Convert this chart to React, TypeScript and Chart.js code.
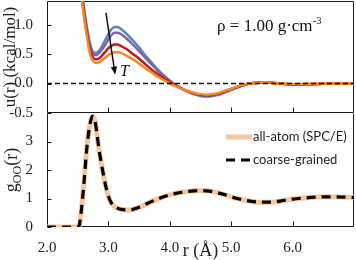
import React, { useEffect, useRef } from "react";
import { Chart, registerables } from "chart.js";
Chart.register(...registerables);

const SERIF = '"Liberation Serif", "Times New Roman", serif';
const SANS = 'Lato, "Liberation Sans", sans-serif';

// ---------- top panel: u(r) at several temperatures ----------
const rU = [2.50, 2.55, 2.60, 2.65, 2.70, 2.75, 2.80, 2.85, 2.90, 2.95, 3.00, 3.05, 3.10, 3.15, 3.20,
  3.30, 3.40, 3.50, 3.60, 3.70, 3.80, 3.90, 4.00, 4.10, 4.20, 4.30, 4.40, 4.50, 4.60, 4.70, 4.80, 4.90,
  5.00, 5.10, 5.20, 5.30, 5.40, 5.50, 5.60, 5.70, 5.80, 6.00, 6.20, 6.40, 6.60, 7.00];
const uBlue = [2.4, 1.75, 1.3, 0.95, 0.68, 0.54, 0.52, 0.56, 0.64, 0.74, 0.84, 0.92, 0.96, 0.96, 0.93,
  0.84, 0.73, 0.61, 0.48, 0.36, 0.24, 0.14, 0.05, -0.03, -0.09, -0.14, -0.18, -0.21, -0.22, -0.21, -0.19, -0.15,
  -0.11, -0.07, -0.03, 0.0, 0.01, 0.02, 0.02, 0.01, 0.0, -0.02, -0.02, -0.01, 0.0, 0.0];
const uPurple = [2.35, 1.7, 1.25, 0.9, 0.63, 0.5, 0.48, 0.52, 0.58, 0.66, 0.75, 0.82, 0.86, 0.86, 0.84,
  0.76, 0.66, 0.55, 0.44, 0.33, 0.22, 0.12, 0.04, -0.03, -0.09, -0.14, -0.18, -0.2, -0.21, -0.2, -0.18, -0.14,
  -0.1, -0.06, -0.03, 0.0, 0.01, 0.02, 0.02, 0.01, 0.0, -0.02, -0.015, -0.01, 0.0, 0.0];
const uRed = [2.3, 1.65, 1.2, 0.85, 0.57, 0.44, 0.41, 0.43, 0.48, 0.54, 0.6, 0.64, 0.66, 0.66, 0.64,
  0.58, 0.5, 0.42, 0.33, 0.24, 0.16, 0.09, 0.02, -0.04, -0.09, -0.13, -0.17, -0.19, -0.2, -0.19, -0.17, -0.13,
  -0.09, -0.06, -0.02, 0.0, 0.01, 0.02, 0.02, 0.01, 0.0, -0.015, -0.01, -0.01, 0.0, 0.0];
const uOrange = [2.2, 1.6, 1.15, 0.8, 0.5, 0.38, 0.35, 0.36, 0.4, 0.44, 0.48, 0.51, 0.53, 0.53, 0.52,
  0.47, 0.41, 0.34, 0.26, 0.19, 0.12, 0.06, 0.0, -0.05, -0.09, -0.13, -0.16, -0.18, -0.19, -0.18, -0.16, -0.12,
  -0.09, -0.05, -0.02, 0.0, 0.01, 0.02, 0.02, 0.01, 0.0, -0.01, -0.01, 0.0, 0.0, 0.0];
const zeroR = [2.0, 7.0];
const zeroU = [0, 0];
const uTicks = [-0.5, 0.0, 0.5, 1.0];

// ---------- bottom panel: g_OO(r) ----------
const rG = [2.00, 2.40, 2.50, 2.53, 2.56, 2.60, 2.65, 2.70, 2.74, 2.78, 2.82, 2.86, 2.90, 2.95, 3.00, 3.05, 3.10,
  3.20, 3.30, 3.40, 3.50, 3.60, 3.70, 3.80, 3.90, 4.00, 4.10, 4.20, 4.30, 4.40, 4.50, 4.60, 4.70, 4.80, 4.90,
  5.00, 5.10, 5.20, 5.30, 5.40, 5.50, 5.60, 5.70, 5.80, 5.90, 6.00, 6.20, 6.40, 6.60, 6.80, 7.00];
const gAllAtom = [0, 0, 0, 0.1, 0.6, 1.5, 2.8, 3.6, 3.88, 3.75, 3.15, 2.55, 2.05, 1.5, 1.08, 0.84, 0.72,
  0.62, 0.6, 0.62, 0.69, 0.79, 0.89, 0.98, 1.06, 1.13, 1.18, 1.22, 1.25, 1.27, 1.28, 1.27, 1.24, 1.19, 1.13,
  1.06, 1.0, 0.95, 0.91, 0.88, 0.87, 0.87, 0.88, 0.91, 0.95, 0.98, 1.02, 1.05, 1.06, 1.05, 1.04];
const gCoarse = [0, 0, 0, 0.1, 0.6, 1.5, 2.8, 3.6, 3.88, 3.75, 3.15, 2.55, 2.05, 1.5, 1.08, 0.84, 0.72,
  0.62, 0.6, 0.62, 0.69, 0.79, 0.89, 0.98, 1.06, 1.13, 1.18, 1.22, 1.25, 1.27, 1.28, 1.27, 1.24, 1.19, 1.13,
  1.06, 1.0, 0.95, 0.91, 0.88, 0.87, 0.87, 0.88, 0.91, 0.95, 0.98, 1.02, 1.05, 1.06, 1.05, 1.04];
const gTicks = [0, 1, 2, 3];
const rTicks = [2, 3, 4, 5, 6];
const legendLabels = ["all-atom (SPC/E)", "coarse-grained"];

// annotation anchors (data coordinates)
const rhoLabelAt = [4.77, 0.96];
const arrowFrom = [2.96, 1.2];
const arrowTo = [3.11, 0.15];
const tLabelAt = [3.19, 0.2];

const pts = (xs: number[], ys: number[]) => xs.map((x, i) => ({ x, y: ys[i] }));

const framePlugin = {
  id: "frame",
  beforeDatasetsDraw(chart: any, _a: any, opts: any) {
    const { ctx, chartArea: a, scales } = chart;
    const L = Math.round(a.left) + 0.5, R = Math.round(a.right) - 0.5;
    const T = Math.round(a.top) + 0.5, B = Math.round(a.bottom) - 0.5;
    ctx.save();
    ctx.strokeStyle = "#1c1c1c";
    ctx.lineWidth = 1;
    ctx.beginPath();
    if (opts.top) { ctx.moveTo(L, T); ctx.lineTo(R, T); }
    ctx.moveTo(L, T); ctx.lineTo(L, B);
    ctx.moveTo(R, T); ctx.lineTo(R, B);
    ctx.moveTo(L, B); ctx.lineTo(R, B);
    for (const v of opts.xt || []) {
      const x = Math.round(scales.x.getPixelForValue(v)) + 0.5;
      ctx.moveTo(x, B); ctx.lineTo(x, B - 5);
    }
    for (const v of opts.yt || []) {
      const y = Math.round(scales.y.getPixelForValue(v)) + 0.5;
      ctx.moveTo(L, y); ctx.lineTo(L + 4, y);
    }
    ctx.stroke();
    ctx.restore();
  },
};

const topNotes = {
  id: "topNotes",
  afterDatasetsDraw(chart: any) {
    const { ctx, scales: { x, y } } = chart;
    ctx.save();
    ctx.fillStyle = "#111";
    ctx.textBaseline = "middle";
    ctx.textAlign = "left";
    ctx.font = `17px ${SERIF}`;
    const px = x.getPixelForValue(rhoLabelAt[0]);
    const py = y.getPixelForValue(rhoLabelAt[1]);
    const main = "ρ = 1.00 g·cm";
    ctx.fillText(main, px, py);
    const w = ctx.measureText(main).width;
    ctx.font = `10px ${SERIF}`;
    ctx.fillText("-3", px + w + 0.5, py - 6);
    // arrow
    const x0 = x.getPixelForValue(arrowFrom[0]), y0 = y.getPixelForValue(arrowFrom[1]);
    const x1 = x.getPixelForValue(arrowTo[0]), y1 = y.getPixelForValue(arrowTo[1]);
    const ang = Math.atan2(y1 - y0, x1 - x0);
    ctx.strokeStyle = "#111";
    ctx.lineWidth = 1.5;
    ctx.beginPath();
    ctx.moveTo(x0, y0);
    ctx.lineTo(x1 - 6 * Math.cos(ang), y1 - 6 * Math.sin(ang));
    ctx.stroke();
    ctx.beginPath();
    ctx.moveTo(x1, y1);
    ctx.lineTo(x1 - 8 * Math.cos(ang) + 3.2 * Math.sin(ang), y1 - 8 * Math.sin(ang) - 3.2 * Math.cos(ang));
    ctx.lineTo(x1 - 8 * Math.cos(ang) - 3.2 * Math.sin(ang), y1 - 8 * Math.sin(ang) + 3.2 * Math.cos(ang));
    ctx.closePath();
    ctx.fill();
    ctx.font = `italic 16px ${SERIF}`;
    ctx.fillText("T", x.getPixelForValue(tLabelAt[0]), y.getPixelForValue(tLabelAt[1]));
    ctx.restore();
  },
};

const bottomNotes = {
  id: "bottomNotes",
  afterDatasetsDraw(chart: any) {
    const { ctx, chartArea: a } = chart;
    ctx.save();
    // y title g_OO(r)
    ctx.translate(12, (a.top + a.bottom) / 2);
    ctx.rotate(-Math.PI / 2);
    ctx.fillStyle = "#222";
    ctx.textBaseline = "alphabetic";
    ctx.textAlign = "left";
    const big = `18px ${SERIF}`, small = `12px ${SERIF}`;
    ctx.font = big; const wg = ctx.measureText("g").width; const wr = ctx.measureText("(r)").width;
    ctx.font = small; const wo = ctx.measureText("OO").width;
    const s = -(wg + wo + wr) / 2;
    ctx.font = big; ctx.fillText("g", s, 5);
    ctx.font = small; ctx.fillText("OO", s + wg, 9);
    ctx.font = big; ctx.fillText("(r)", s + wg + wo, 5);
    ctx.restore();
    // legend
    const ds = chart.data.datasets;
    const order = [1, 0];
    ctx.save();
    ctx.font = `13px ${SANS}`;
    ctx.textBaseline = "middle";
    ctx.fillStyle = "#222";
    order.forEach((di, i) => {
      const d = ds[di];
      const ly = a.top + 24 + i * 23;
      const lx = a.right - 128;
      ctx.beginPath();
      ctx.strokeStyle = d.borderColor;
      ctx.lineWidth = d.borderWidth;
      ctx.setLineDash(d.borderDash || []);
      ctx.moveTo(lx, ly);
      ctx.lineTo(lx + 26, ly);
      ctx.stroke();
      ctx.setLineDash([]);
      ctx.fillText(legendLabels[i], lx + 27, ly);
    });
    ctx.restore();
  },
};

const noPad = (s: any) => { s.paddingTop = 0; s.paddingBottom = 0; s.paddingLeft = 0; s.paddingRight = 0; };

export default function App() {
  const topRef = useRef<HTMLCanvasElement>(null);
  const botRef = useRef<HTMLCanvasElement>(null);

  useEffect(() => {
    const line = (data: any, color: string, width: number, extra: any = {}) => ({
      data, borderColor: color, borderWidth: width, pointRadius: 0, fill: false,
      cubicInterpolationMode: "monotone", ...extra,
    });
    const top = new Chart(topRef.current as HTMLCanvasElement, {
      type: "line",
      data: {
        datasets: [
          line(pts(zeroR, zeroU), "#111", 1.5, { borderDash: [5, 3] }),
          line(pts(rU, uOrange), "#f08a24", 2.5),
          line(pts(rU, uRed), "#c8161d", 2.5),
          line(pts(rU, uPurple), "#8064a2", 2.5),
          line(pts(rU, uBlue), "#5585c2", 2.5),
        ],
      } as any,
      options: {
        animation: false,
        responsive: true,
        maintainAspectRatio: false,
        layout: { padding: { top: 1, right: 2, bottom: 9, left: 0 } },
        plugins: { legend: { display: false }, tooltip: { enabled: false }, frame: { top: true, xt: rTicks, yt: uTicks } } as any,
        scales: {
          x: { type: "linear", min: 2, max: 7, display: false },
          y: {
            type: "linear", min: -0.5, max: 1.4,
            afterBuildTicks: (s: any) => { s.ticks = uTicks.map((v) => ({ value: v })); },
            afterFit: (s: any) => { s.width = 47; noPad(s); },
            grid: { display: false, drawTicks: false },
            border: { display: false },
            ticks: { autoSkip: false, padding: 14, color: "#222", font: { family: SERIF, size: 15 }, callback: (v: any) => Number(v).toFixed(1) },
            title: { display: true, text: "u(r) (kcal/mol)", color: "#222", font: { family: SERIF, size: 17, lineHeight: 1 }, padding: { top: 2, bottom: 0 } },
          },
        },
      } as any,
      plugins: [framePlugin, topNotes],
    });
    const bot = new Chart(botRef.current as HTMLCanvasElement, {
      type: "line",
      data: {
        datasets: [
          line(pts(rG, gCoarse), "#000", 3.2, { borderDash: [9, 6], cubicInterpolationMode: "monotone" }),
          line(pts(rG, gAllAtom), "#f8c69c", 5),
        ],
      } as any,
      options: {
        animation: false,
        responsive: true,
        maintainAspectRatio: false,
        layout: { padding: { top: 0, right: 2, bottom: 0, left: 0 } },
        plugins: { legend: { display: false }, tooltip: { enabled: false }, frame: { top: false, xt: rTicks, yt: gTicks } } as any,
        scales: {
          x: {
            type: "linear", min: 2, max: 7,
            afterBuildTicks: (s: any) => { s.ticks = rTicks.map((v) => ({ value: v })); },
            afterFit: (s: any) => { s.height = 33; noPad(s); },
            grid: { display: false, drawTicks: false },
            border: { display: false },
            ticks: { autoSkip: false, maxRotation: 0, padding: 12, color: "#222", font: { family: SERIF, size: 15 }, callback: (v: any) => Number(v).toFixed(1) },
            title: { display: true, text: "r (Å)", color: "#222", font: { family: SERIF, size: 18, lineHeight: 1 }, padding: { top: 0, bottom: 0 } },
          },
          y: {
            type: "linear", min: 0, max: 4,
            afterBuildTicks: (s: any) => { s.ticks = gTicks.map((v) => ({ value: v })); },
            afterFit: (s: any) => { s.width = 47; noPad(s); },
            grid: { display: false, drawTicks: false },
            border: { display: false },
            ticks: { autoSkip: false, padding: 14, color: "#222", font: { family: SERIF, size: 15 }, callback: (v: any) => String(v) },
          },
        },
      } as any,
      plugins: [framePlugin, bottomNotes],
    });
    return () => { top.destroy(); bot.destroy(); };
  }, []);

  return (
    <div style={{ position: "absolute", left: 0, top: 0, width: 356, height: 260, background: "#fff" }}>
      <div style={{ position: "absolute", left: 0, top: 0, width: 356, height: 122 }}>
        <canvas ref={topRef} />
      </div>
      <div style={{ position: "absolute", left: 0, top: 113, width: 356, height: 147 }}>
        <canvas ref={botRef} />
      </div>
    </div>
  );
}
